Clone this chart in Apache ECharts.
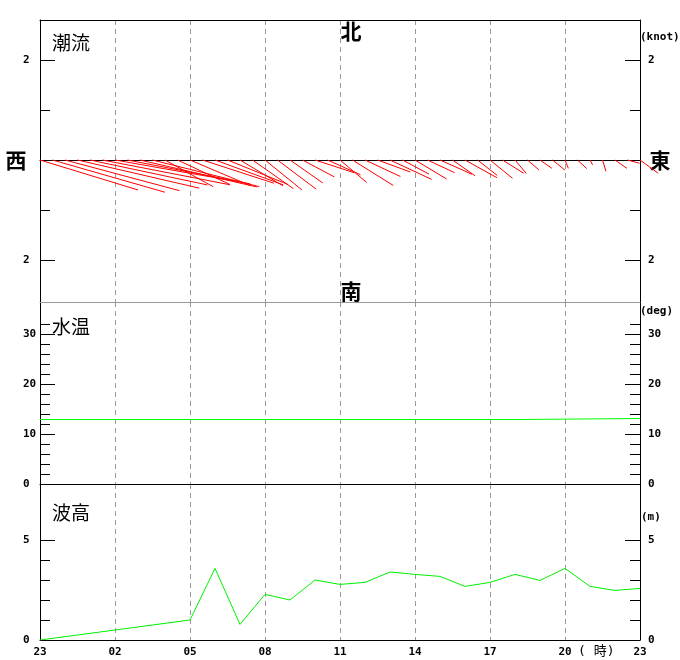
<!DOCTYPE html>
<html><head><meta charset="utf-8">
<script src="https://cdn.jsdelivr.net/npm/echarts@6/dist/echarts.min.js"></script>
<style>html,body{margin:0;padding:0;background:#fff}#c{width:680px;height:660px}</style>
</head><body><div id="c"></div>
<script>
// ---- data ----
// tidal current sticks: hours since 23:00, speed (knot), direction (deg, clockwise from north, flowing to)
const stickHours = [0,0.5,1,1.5,2,2.5,3,3.5,4,4.5,5,5.5,6,6.5,7,7.5,8,8.5,9,9.5,10,10.5,11,11.5,12,12.5,13,13.5,14,14.5,15,15.5,16,16.5,17,17.5,18,18.5,19,19.5,20,20.5,21,21.5,22,22.5,23,23.5,24];
const stickSpeed = [2.05,2.34,2.37,2.5,2.4,2.6,2.6,2.5,2.4,2.2,1.1,1.15,1.3,1.5,1.45,1.3,1.0,1.0,0.95,0.97,0.8,0.72,0.82,0.72,0.7,0.96,0.78,0.7,0.92,0.6,0.74,0.6,0.7,0.55,0.73,0.5,0.58,0.5,0.35,0.3,0.29,0.32,0.18,0.25,0.11,0.24,0.29,0.25,0.45];
const stickDir = [107,106,105,103,102,101,100,101,103,104,119,115,113,108,110,112,121,125,129,127,125,118,108,114,130,122,115,110,115,118,121,115,114,125,119,128,129,122,140,131,125,129,158,133,152,163,125,105,126];
// water temperature
const tempHours = [0, 19.2, 24];
const tempValues = [12.9, 13.1, 13.1];
// wave height (hourly, 23:00 .. 23:00)
const waveHours = [0,1,2,3,4,5,6,7,8,9,10,11,12,13,14,15,16,17,18,19,20,21,22,23,24];
const waveHeights = [0,null,null,null,null,null,1.0,3.58,0.78,2.28,2.0,3.0,2.78,2.88,3.4,3.28,3.18,2.68,2.88,3.28,2.98,3.58,2.68,2.48,2.58];
// tick labels
const hourLabels = ['23','02','05','08','11','14','17','20','23'];
const currentTicksMajor = [-2, 2], currentTicksMinor = [-1, 1];
const tempTicksMajor = [0, 10, 20, 30], tempTicksMinor = [2,4,6,8,12,14,16,18,22,24,26,28,32];
const waveTicksMajor = [0, 5], waveTicksMinor = [1, 2, 3, 4];

const chart = echarts.init(document.getElementById('c'), null, {renderer: 'canvas'});
const monoFont = {fontFamily: 'DejaVu Sans Mono', fontWeight: 'bold', fontSize: 11, color: '#000'};
const cjk = 'Noto Sans CJK JP';

const grids = [
  {left: 40, top: 20, width: 600, height: 282},
  {left: 40, top: 302, width: 600, height: 182},
  {left: 40, top: 484, width: 600, height: 156}
];

function xAx(gi, pos, lineColor, opts) {
  return Object.assign({
    type: 'value', gridIndex: gi, position: pos, min: 0, max: 24, interval: 3,
    axisLine: {show: true, onZero: false, lineStyle: {color: lineColor, width: 1}},
    axisTick: {show: false}, axisLabel: {show: false}, splitLine: {show: false}
  }, opts || {});
}
const dashSplit = {show: true, lineStyle: {color: '#9a9a9a', type: [5, 4], width: 1}};

const xAxis = [
  xAx(0, 'bottom', '#000', {axisLine: {show: true, onZero: true, lineStyle: {color: '#000', width: 1}}, splitLine: dashSplit}),
  xAx(0, 'top', '#000'),
  xAx(1, 'bottom', '#000', {splitLine: dashSplit}),
  xAx(1, 'top', '#999'),
  xAx(2, 'bottom', '#000', {splitLine: dashSplit, axisLabel: Object.assign({show: true, margin: 7,
      formatter: v => hourLabels[Math.round(v / 3)]}, monoFont)})
];

function yPair(gi, min, max, major, minor, side, fmt) {
  const margin = side === 'left' ? 17 : 8;
  return [
    {type: 'value', gridIndex: gi, position: side, min: min, max: max,
     axisLine: {show: true, onZero: false, lineStyle: {color: '#000', width: 1}},
     axisTick: {show: true, inside: true, length: 15, customValues: major, lineStyle: {color: '#000'}},
     axisLabel: Object.assign({show: true, inside: false, margin: margin, align: 'left', customValues: major, formatter: fmt}, monoFont),
     splitLine: {show: false}},
    {type: 'value', gridIndex: gi, position: side, min: min, max: max,
     axisLine: {show: false, onZero: false},
     axisTick: {show: true, inside: true, length: 10, customValues: minor, lineStyle: {color: '#000'}},
     axisLabel: {show: false}, splitLine: {show: false}}
  ];
}
const absFmt = v => String(Math.abs(v));
const yAxis = [].concat(
  yPair(0, -2.84, 2.8, currentTicksMajor, currentTicksMinor, 'left', absFmt),
  yPair(0, -2.84, 2.8, currentTicksMajor, currentTicksMinor, 'right', absFmt),
  yPair(1, 0, 36.4, tempTicksMajor, tempTicksMinor, 'left', absFmt),
  yPair(1, 0, 36.4, tempTicksMajor, tempTicksMinor, 'right', absFmt),
  yPair(2, 0, 7.8, waveTicksMajor, waveTicksMinor, 'left', absFmt),
  yPair(2, 0, 7.8, waveTicksMajor, waveTicksMinor, 'right', absFmt)
);

const stickData = stickHours.map((h, i) => [h, stickSpeed[i], stickDir[i]]);

function txt(text, x, y, size, opts) {
  return {type: 'text', x: x, y: y, silent: true,
    style: Object.assign({text: text, font: size + 'px "' + cjk + '"', fill: '#000', align: 'left', verticalAlign: 'middle'}, (opts || {}))};
}

const option = {
  animation: false,
  backgroundColor: '#fff',
  grid: grids,
  xAxis: xAxis,
  yAxis: yAxis,
  series: [
    {type: 'custom', xAxisIndex: 0, yAxisIndex: 0, clip: false, z: 3,
     data: stickData,
     renderItem: function (params, api) {
       const p = api.coord([api.value(0), 0]);
       const len = api.size([0, api.value(1)])[1];
       const a = api.value(2) * Math.PI / 180;
       return {type: 'line', shape: {x1: p[0], y1: p[1], x2: p[0] + len * Math.sin(a), y2: p[1] - len * Math.cos(a)},
               style: {stroke: '#ff0000', lineWidth: 1}};
     }},
    {type: 'line', xAxisIndex: 2, yAxisIndex: 4, symbol: 'none', step: 'end',
     data: tempHours.map((h, i) => [h, tempValues[i]]),
     lineStyle: {color: '#00ff00', width: 1}},
    {type: 'line', xAxisIndex: 4, yAxisIndex: 8, symbol: 'none', connectNulls: true,
     data: waveHours.map((h, i) => [h, waveHeights[i]]),
     lineStyle: {color: '#00f000', width: 1}}
  ],
  graphic: [
    txt('潮流', 52, 43, 19),
    txt('水温', 52, 327, 19),
    txt('波高', 52, 513, 19),
    txt('北', 351, 31, 21, {align: 'center', font: 'bold 21px "' + cjk + '"'}),
    txt('南', 351, 291, 21, {align: 'center', font: 'bold 21px "' + cjk + '"'}),
    txt('西', 16, 160, 21, {align: 'center', font: 'bold 21px "' + cjk + '"'}),
    txt('東', 660, 160, 21, {align: 'center', font: 'bold 21px "' + cjk + '"'}),
    txt('(knot)', 640, 37, 11, {font: 'bold 11px "DejaVu Sans Mono"'}),
    txt('(deg)', 640, 311, 11, {font: 'bold 11px "DejaVu Sans Mono"'}),
    txt('(m)', 641, 517, 11, {font: 'bold 11px "DejaVu Sans Mono"'}),
    txt('( 時)', 578, 652, 13, {font: '13px "DejaVu Sans Mono", "' + cjk + '"'})
  ]
};
chart.setOption(option);
</script></body></html>
